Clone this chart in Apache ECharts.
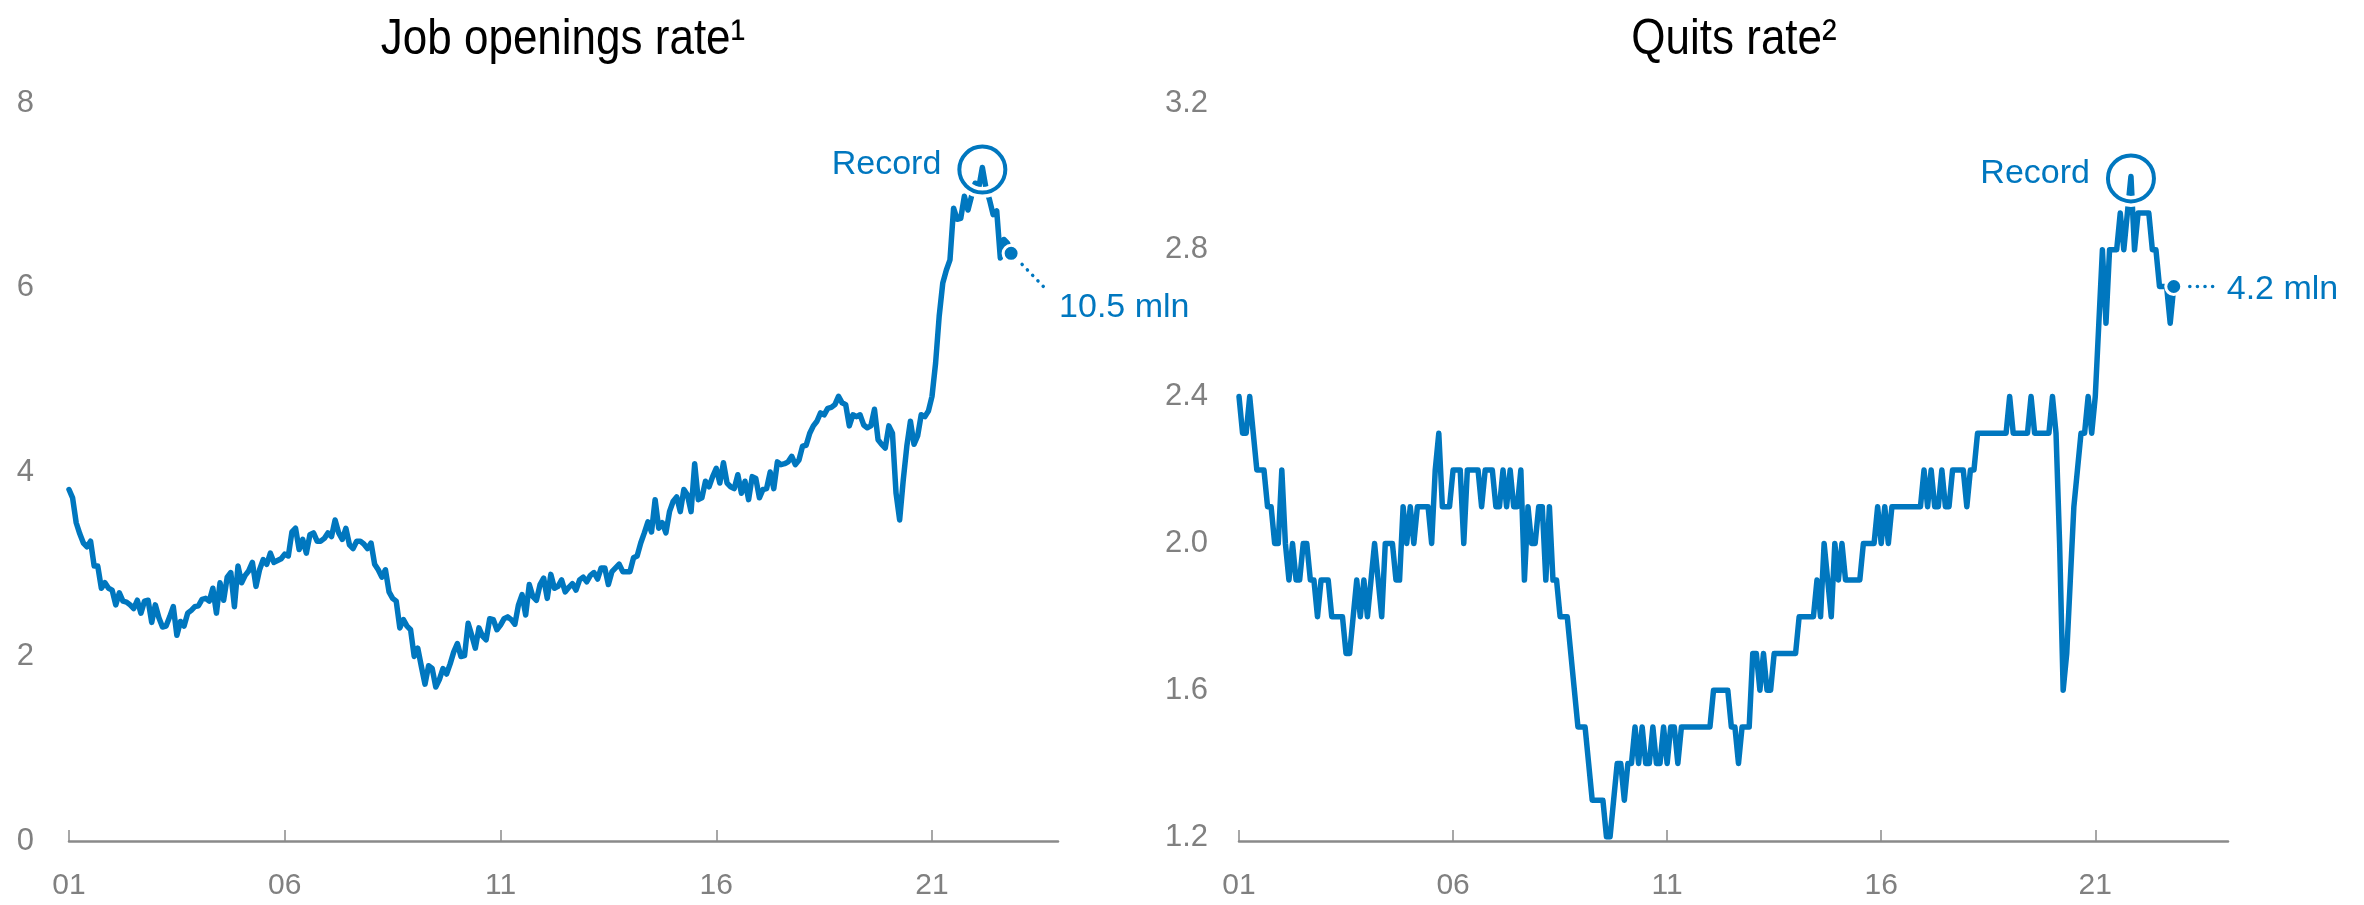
<!DOCTYPE html>
<html>
<head>
<meta charset="utf-8">
<title>Job openings and quits rates</title>
<script src="https://cdn.jsdelivr.net/npm/echarts@6/dist/echarts.min.js"></script>
<style>
  html, body { margin: 0; padding: 0; background: #fff; }
  #main { width: 2364px; height: 905px; }
</style>
</head>
<body>
<div id="main"></div>
<script>
// monthly rates, Jan 2001 - Nov 2022, one row per year
var jobOpeningsRate = [].concat(
  [3.81, 3.72, 3.45, 3.33, 3.23, 3.19, 3.25, 2.98, 2.98, 2.74, 2.80, 2.74],
  [2.72, 2.56, 2.69, 2.60, 2.59, 2.56, 2.52, 2.61, 2.47, 2.60, 2.61, 2.37],
  [2.56, 2.42, 2.32, 2.33, 2.43, 2.54, 2.23, 2.38, 2.33, 2.47, 2.50, 2.54],
  [2.55, 2.62, 2.63, 2.60, 2.74, 2.47, 2.80, 2.61, 2.86, 2.91, 2.54, 2.98],
  [2.80, 2.88, 2.93, 3.02, 2.76, 2.94, 3.05, 3.00, 3.12, 3.02, 3.04, 3.06],
  [3.11, 3.09, 3.35, 3.39, 3.16, 3.27, 3.12, 3.32, 3.34, 3.25, 3.25, 3.28],
  [3.34, 3.30, 3.48, 3.34, 3.27, 3.39, 3.21, 3.17, 3.25, 3.25, 3.22, 3.17],
  [3.23, 3.00, 2.94, 2.86, 2.94, 2.70, 2.63, 2.60, 2.31, 2.40, 2.33, 2.29],
  [2.00, 2.09, 1.89, 1.70, 1.90, 1.87, 1.67, 1.75, 1.87, 1.81, 1.92, 2.05],
  [2.14, 2.00, 2.01, 2.36, 2.23, 2.09, 2.31, 2.22, 2.18, 2.41, 2.40, 2.29],
  [2.34, 2.41, 2.43, 2.40, 2.35, 2.56, 2.67, 2.45, 2.78, 2.65, 2.61, 2.78],
  [2.85, 2.63, 2.89, 2.74, 2.76, 2.83, 2.70, 2.75, 2.79, 2.72, 2.83, 2.86],
  [2.81, 2.88, 2.91, 2.84, 2.96, 2.96, 2.78, 2.92, 2.96, 3.00, 2.92, 2.92],
  [2.92, 3.07, 3.09, 3.23, 3.34, 3.46, 3.35, 3.70, 3.39, 3.45, 3.34, 3.57],
  [3.68, 3.73, 3.57, 3.81, 3.75, 3.57, 4.09, 3.70, 3.72, 3.90, 3.84, 3.95],
  [4.04, 3.88, 4.10, 3.88, 3.84, 3.82, 3.97, 3.77, 3.90, 3.70, 3.95, 3.93],
  [3.72, 3.81, 3.82, 4.00, 3.82, 4.11, 4.08, 4.09, 4.11, 4.17, 4.08, 4.13],
  [4.28, 4.29, 4.42, 4.50, 4.55, 4.64, 4.62, 4.69, 4.70, 4.73, 4.82, 4.75],
  [4.73, 4.50, 4.62, 4.60, 4.62, 4.51, 4.48, 4.50, 4.68, 4.35, 4.30, 4.26],
  [4.50, 4.42, 3.77, 3.48, 3.91, 4.28, 4.55, 4.30, 4.39, 4.62, 4.60, 4.66],
  [4.82, 5.18, 5.69, 6.05, 6.19, 6.30, 6.86, 6.74, 6.75, 6.99, 6.84, 6.99],
  [7.13, 7.08, 7.30, 7.08, 6.95, 6.79, 6.83, 6.32, 6.52, 6.48, 6.37]
);

var quitsRate = [].concat(
  [2.4, 2.3, 2.3, 2.4, 2.3, 2.2, 2.2, 2.2, 2.1, 2.1, 2.0, 2.0],
  [2.2, 2.0, 1.9, 2.0, 1.9, 1.9, 2.0, 2.0, 1.9, 1.9, 1.8, 1.9],
  [1.9, 1.9, 1.8, 1.8, 1.8, 1.8, 1.7, 1.7, 1.8, 1.9, 1.8, 1.9],
  [1.8, 1.9, 2.0, 1.9, 1.8, 2.0, 2.0, 2.0, 1.9, 1.9, 2.1, 2.0],
  [2.1, 2.0, 2.1, 2.1, 2.1, 2.1, 2.0, 2.2, 2.3, 2.1, 2.1, 2.1],
  [2.2, 2.2, 2.2, 2.0, 2.2, 2.2, 2.2, 2.2, 2.1, 2.2, 2.2, 2.2],
  [2.1, 2.1, 2.2, 2.1, 2.2, 2.1, 2.1, 2.2, 1.9, 2.1, 2.0, 2.0],
  [2.1, 2.1, 1.9, 2.1, 1.9, 1.9, 1.8, 1.8, 1.8, 1.7, 1.6, 1.5],
  [1.5, 1.5, 1.4, 1.3, 1.3, 1.3, 1.3, 1.2, 1.2, 1.3, 1.4, 1.4],
  [1.3, 1.4, 1.4, 1.5, 1.4, 1.5, 1.4, 1.4, 1.5, 1.4, 1.4, 1.5],
  [1.4, 1.5, 1.5, 1.4, 1.5, 1.5, 1.5, 1.5, 1.5, 1.5, 1.5, 1.5],
  [1.5, 1.6, 1.6, 1.6, 1.6, 1.6, 1.5, 1.5, 1.4, 1.5, 1.5, 1.5],
  [1.7, 1.7, 1.6, 1.7, 1.6, 1.6, 1.7, 1.7, 1.7, 1.7, 1.7, 1.7],
  [1.7, 1.8, 1.8, 1.8, 1.8, 1.8, 1.9, 1.8, 2.0, 1.9, 1.8, 2.0],
  [1.9, 2.0, 1.9, 1.9, 1.9, 1.9, 1.9, 2.0, 2.0, 2.0, 2.0, 2.1],
  [2.0, 2.1, 2.0, 2.1, 2.1, 2.1, 2.1, 2.1, 2.1, 2.1, 2.1, 2.1],
  [2.2, 2.1, 2.2, 2.1, 2.1, 2.2, 2.1, 2.1, 2.2, 2.2, 2.2, 2.2],
  [2.1, 2.2, 2.2, 2.3, 2.3, 2.3, 2.3, 2.3, 2.3, 2.3, 2.3, 2.3],
  [2.4, 2.3, 2.3, 2.3, 2.3, 2.3, 2.4, 2.3, 2.3, 2.3, 2.3, 2.3],
  [2.4, 2.3, 2.0, 1.6, 1.7, 1.9, 2.1, 2.2, 2.3, 2.3, 2.4, 2.3],
  [2.4, 2.6, 2.8, 2.6, 2.8, 2.8, 2.8, 2.9, 2.8, 2.9, 3.0, 2.8],
  [2.9, 2.9, 2.9, 2.9, 2.8, 2.8, 2.7, 2.7, 2.7, 2.6, 2.7]
);

var startYear = 2001;
var tickYears = [2001, 2006, 2011, 2016, 2021];
var tickLabels = ['01', '06', '11', '16', '21'];
var titles = ['Job openings rate\u00b9', 'Quits rate\u00b2'];
var lastLabels = ['10.5 mln', '4.2 mln'];

var blue = '#0077bf';
var grey = '#808080';
var font = '"Liberation Sans", Arial, sans-serif';

function toPairs(values) {
  return values.map(function (v, i) { return [startYear + i / 12, v]; });
}
var jobPairs = toPairs(jobOpeningsRate);
var quitsPairs = toPairs(quitsRate);

function xAxisFor(grid, max, offset) {
  return {
    type: 'value', gridIndex: grid, min: startYear, max: max, offset: offset,
    splitLine: { show: false },
    axisLine: { lineStyle: { color: '#8a8a8a', width: 2.5 } },
    axisTick: { customValues: tickYears, inside: true, length: 11, lineStyle: { color: '#8a8a8a', width: 1.5 } },
    axisLabel: {
      customValues: tickYears, margin: 30, color: grey, fontFamily: font, fontSize: 30,
      formatter: function (v) { return tickLabels[tickYears.indexOf(v)]; }
    }
  };
}

function yAxisFor(grid, min, max, step, digits, margin) {
  return {
    type: 'value', gridIndex: grid, min: min, max: max, interval: step,
    splitLine: { show: false }, axisLine: { show: false }, axisTick: { show: false },
    axisLabel: {
      margin: margin, color: grey, fontFamily: font, fontSize: 31,
      formatter: function (v) { return v.toFixed(digits); }
    }
  };
}

function marks(pairs) {
  var last = pairs[pairs.length - 1];
  return {
    symbol: 'circle', silent: true, animation: false,
    data: [
      { type: 'max', valueDim: 'y', symbolSize: 46, symbolOffset: [0, 2], label: { show: false },
        itemStyle: { color: 'rgba(0,0,0,0)', borderColor: '#fff', borderWidth: 11 } },
      { type: 'max', valueDim: 'y', symbolSize: 46, symbolOffset: [0, 2],
        itemStyle: { color: 'rgba(0,0,0,0)', borderColor: blue, borderWidth: 4 },
        label: { show: true, position: 'left', distance: 16, offset: [0, -5], formatter: 'Record',
                 color: blue, fontFamily: font, fontSize: 34 } },
      { coord: last, symbolSize: 16, label: { show: false },
        itemStyle: { color: blue, borderColor: '#fff', borderWidth: 3 } }
    ]
  };
}

function lineSeries(idx, pairs) {
  return {
    type: 'line', xAxisIndex: idx, yAxisIndex: idx, data: pairs,
    showSymbol: false, symbol: 'none', silent: true,
    lineStyle: { color: blue, width: 5.5, cap: 'round', join: 'round' },
    markPoint: marks(pairs)
  };
}

// titles drawn as graphic text so they can be narrowed like the condensed original
function titleText(cx, s) {
  return { type: 'text', x: cx, y: 40, scaleX: 0.88, silent: true,
    style: { text: s, fill: '#000', font: '50px ' + font,
             textAlign: 'center', textVerticalAlign: 'middle', align: 'center', verticalAlign: 'middle' } };
}

var chart = echarts.init(document.getElementById('main'));
chart.setOption({
  animation: false,
  backgroundColor: '#fff',
  grid: [
    { left: 69, top: 103, width: 989, height: 738 },
    { left: 1239, top: 103, width: 989, height: 734 }
  ],
  xAxis: [xAxisFor(0, 2023.92, 0), xAxisFor(1, 2024.1, 4)],
  yAxis: [yAxisFor(0, 0, 8, 2, 0, 35), yAxisFor(1, 1.2, 3.2, 0.4, 1, 31)],
  series: [lineSeries(0, jobPairs), lineSeries(1, quitsPairs)]
});

// dotted leaders and end-value labels, anchored on the last data point
var p0 = chart.convertToPixel({ seriesIndex: 0 }, jobPairs[jobPairs.length - 1]);
var p1 = chart.convertToPixel({ seriesIndex: 1 }, quitsPairs[quitsPairs.length - 1]);
var dots = { stroke: blue, lineWidth: 3.5, lineDash: [0.1, 7.5], lineCap: 'round' };
function endText(x, y, s) {
  return { type: 'text', x: x, y: y, silent: true,
    style: { text: s, fill: blue, font: '34px ' + font, textAlign: 'left', textVerticalAlign: 'middle', align: 'left', verticalAlign: 'middle' } };
}
chart.setOption({
  graphic: [
    titleText(563, titles[0]),
    titleText(1734, titles[1]),
    { type: 'line', silent: true, shape: { x1: p0[0] + 11, y1: p0[1] + 11, x2: p0[0] + 36, y2: p0[1] + 37 }, style: dots },
    endText(p0[0] + 48, p0[1] + 54, lastLabels[0]),
    { type: 'line', silent: true, shape: { x1: p1[0] + 16, y1: p1[1], x2: p1[0] + 42, y2: p1[1] }, style: dots },
    endText(p1[0] + 53, p1[1] + 3, lastLabels[1])
  ]
});
</script>
</body>
</html>
